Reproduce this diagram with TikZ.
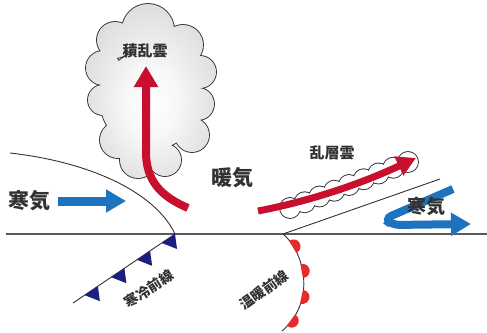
\documentclass[tikz,border=0pt]{standalone}
\usepackage{fontspec}
\newfontfamily\jp{Noto Sans CJK JP}
\usetikzlibrary{arrows.meta,decorations.markings,calc}
\definecolor{frontred}{RGB}{200,16,46}
\definecolor{dotred}{RGB}{232,42,42}
\definecolor{airblue}{RGB}{30,115,190}
\definecolor{frontnavy}{RGB}{28,30,130}
\definecolor{inkgray}{RGB}{50,50,50}
\pgfdeclareradialshading{cloudglow}{\pgfpoint{0bp}{-4bp}}{%
  color(0bp)=(white); color(10bp)=(black!3); color(30bp)=(black!15); color(50bp)=(black!26)}
\begin{document}
\begin{tikzpicture}[x=1pt,y=1pt,
  outline/.style={draw=inkgray, line width=0.9pt},
  cloudedge/.style={draw=inkgray, line width=1.8pt},
  redflow/.style={draw=frontred, line width=8pt, -{Triangle[length=21pt,width=23pt]}},
  thinflow/.style={draw=frontred, line width=7pt, -{Triangle[length=19pt,width=20pt]}},
  blueflow/.style={draw=airblue, line width=9pt, -{Triangle[length=20pt,width=22pt]}},
  lbl/.style={font=\jp\bfseries, text=inkgray, inner sep=0pt},
  halfdot/.pic={\fill[dotred] (-7,-1) -- (-7,0) arc[start angle=180, end angle=0, radius=7] -- (7,-1) -- cycle;},
]
\useasboundingbox (0,0) rectangle (487,-332);

% reference points
\coordinate (gl) at (6,-234);
\coordinate (gr) at (487,-234);
\coordinate (cf) at (175,-234);
\coordinate (cfsurf) at (10,-153);
\coordinate (cfend) at (73,-303);
\coordinate (wf) at (283,-234);
\coordinate (wfsurf) at (440,-179);
\coordinate (wfend) at (282,-331);

% ground
\draw[outline, line width=1.3pt, draw=black!65] (gl) -- (gr);

% cold air boundary and cold front on the ground
\draw[outline] (cfsurf) .. controls (90,-162) and (155,-192) .. (cf);
\draw[outline] (cf) -- (cfend);
\foreach \a/\b in {0/0.13, 0.244/0.374, 0.496/0.626, 0.756/0.886}{
  \fill[frontnavy] ($(cf)!\a!(cfend)$) coordinate (tb)
     -- ($(cf)!\b!(cfend)$) -- ($(tb)+(2,-15)$) -- cycle;
}

% warm air boundary and warm front on the ground
\draw[outline] (wf) -- (wfsurf);
\draw[outline, postaction={decorate}, decoration={markings,
   mark=at position 0.15 with {\pic[transform shape]{halfdot};},
   mark=at position 0.39 with {\pic[transform shape]{halfdot};},
   mark=at position 0.63 with {\pic[transform shape]{halfdot};},
   mark=at position 0.87 with {\pic[transform shape]{halfdot};}}]
  (wf) .. controls (303,-250) and (318,-300) .. (wfend);

% cumulonimbus
\def\cbbumps{148/-30/26, 115/-40/18, 183/-45/20, 103/-68/17,
   200/-72/16, 103/-100/15, 198/-104/16, 118/-140/18, 192/-135/17, 138/-160/18,
   165/-160/16, 150/-100/50}
\draw[cloudedge] foreach \x/\y/\r in \cbbumps {(\x,\y) circle[radius=\r]};
\shade[shading=cloudglow] foreach \x/\y/\r in \cbbumps {(\x,\y) circle[radius=\r]};

% nimbostratus
\draw[cloudedge] foreach \i in {0,...,8}{($(290,-208)!\i/8!(408,-162)$) circle[radius=10]};
\fill[white] foreach \i in {0,...,8}{($(290,-208)!\i/8!(408,-162)$) circle[radius=10]};

% warm air rising
\coordinate (cbstart) at (188,-208);
\coordinate (cbtip) at (146,-66);
\draw[redflow] (cbstart) .. controls (160,-196) and (146,-180) .. (146,-152) -- (cbtip);
\coordinate (nsstart) at (258,-211);
\coordinate (nstip) at (416,-158);
\draw[thinflow] (nsstart) .. controls (300,-203) and (352,-188) .. (nstip);

% cold air flows
\coordinate (lbstart) at (58,-201);
\coordinate (lbtip) at (126,-201);
\draw[blueflow] (lbstart) -- (lbtip);
\coordinate (rbstart) at (453,-189);
\coordinate (rbtip) at (471,-224);
\draw[blueflow, line width=8pt, rounded corners=8pt] (rbstart) -- (384,-219) -- (392,-225) -- (rbtip);

% labels
\node[lbl, font=\jp\bfseries\fontsize{15}{15}\selectfont] (cbl) at (145,-51) {積乱雲};
\node[lbl, font=\jp\bfseries\fontsize{21}{21}\selectfont] (warm) at (232,-178) {暖気};
\node[lbl, font=\jp\bfseries\fontsize{21}{21}\selectfont] (coldl) at (30,-201) {寒気};
\node[lbl, font=\jp\bfseries\fontsize{15}{15}\selectfont] (nsl) at (332,-153) {乱層雲};
\node[lbl, font=\jp\bfseries\fontsize{19}{19}\selectfont] (coldr) at (426,-206) {寒気};
\node[lbl, font=\jp\bfseries\fontsize{14}{14}\selectfont, rotate=33] (cfl) at (149,-289) {寒冷前線};
\node[lbl, font=\jp\bfseries\fontsize{14}{14}\selectfont, rotate=36] (wfl) at (264,-290) {温暖前線};
\end{tikzpicture}
\end{document}
